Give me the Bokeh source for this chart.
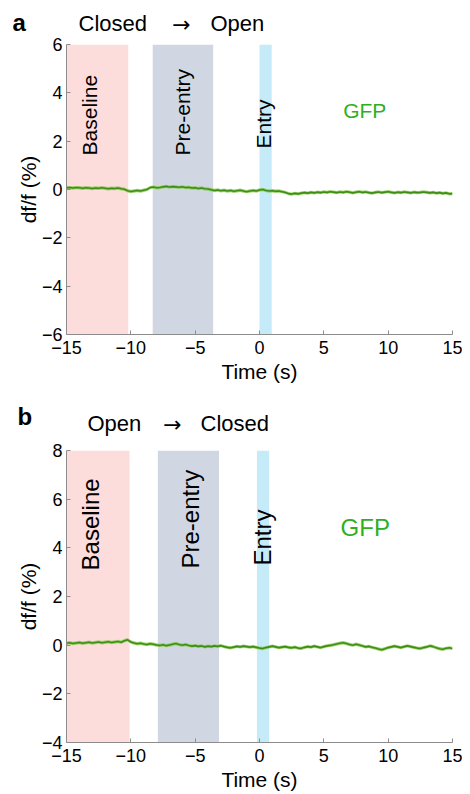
import numpy as np
from bokeh.plotting import figure
from bokeh.layouts import column
from bokeh.models import Range1d, FixedTicker, ColumnDataSource
from bokeh.core.properties import value
from bokeh.embed import file_html
from bokeh.resources import INLINE

# ---------------- data ----------------
time_s = np.linspace(-15, 15, 121)

gfp_closed_open = [
    0.07, 0.08, 0.06, 0.08, 0.07, 0.05, 0.07, 0.06, 0.04, 0.06,
    0.05, 0.07, 0.05, 0.03, 0.05, 0.04, 0.06, 0.03, 0.01, -0.05,
    -0.08, -0.06, -0.04, -0.06, -0.03, 0.00, 0.08, 0.10, 0.07, 0.08,
    0.11, 0.13, 0.10, 0.12, 0.11, 0.09, 0.11, 0.08, 0.09, 0.06,
    0.07, 0.04, 0.06, 0.03, 0.02, -0.01, -0.04, -0.02, -0.05, -0.03,
    -0.06, -0.04, -0.07, -0.05, -0.03, -0.06, -0.09, -0.06, -0.04, -0.06,
    -0.02, 0.00, -0.04, -0.06, -0.05, -0.07, -0.06, -0.09, -0.12, -0.17,
    -0.19, -0.16, -0.18, -0.15, -0.13, -0.15, -0.12, -0.14, -0.11, -0.13,
    -0.10, -0.12, -0.09, -0.11, -0.13, -0.10, -0.12, -0.09, -0.11, -0.14,
    -0.11, -0.09, -0.12, -0.10, -0.13, -0.15, -0.12, -0.10, -0.13, -0.11,
    -0.09, -0.12, -0.14, -0.11, -0.13, -0.10, -0.12, -0.14, -0.11, -0.13,
    -0.12, -0.10, -0.12, -0.14, -0.12, -0.15, -0.13, -0.16, -0.14, -0.18,
    -0.17,
]

gfp_open_closed = [
    0.08, 0.10, 0.07, 0.09, 0.11, 0.08, 0.10, 0.12, 0.09, 0.11,
    0.13, 0.10, 0.12, 0.14, 0.11, 0.13, 0.15, 0.12, 0.18, 0.22,
    0.13, 0.09, 0.06, 0.08, 0.05, 0.03, 0.06, 0.04, 0.01, -0.01,
    0.02, -0.02, 0.01, 0.04, 0.07, 0.03, 0.00, 0.03, -0.01, -0.04,
    -0.02, -0.05, -0.03, -0.07, -0.04, -0.06, -0.03, -0.05, -0.02, -0.06,
    -0.09, -0.11, -0.08, -0.05, -0.07, -0.04, -0.06, -0.08, -0.06, -0.09,
    -0.12, -0.14, -0.10, -0.07, -0.04, -0.07, -0.10, -0.08, -0.06, -0.09,
    -0.11, -0.08, -0.12, -0.13, -0.09, -0.06, -0.08, -0.04, -0.07, -0.10,
    -0.06, -0.03, -0.01, 0.02, 0.05, 0.08, 0.10, 0.07, 0.03, 0.00,
    0.04, 0.01, -0.03, -0.07, -0.05, -0.09, -0.12, -0.16, -0.19, -0.15,
    -0.10, -0.07, -0.04, -0.07, -0.10, -0.06, -0.03, -0.06, -0.09, -0.12,
    -0.14, -0.10, -0.07, -0.03, -0.06, -0.11, -0.15, -0.17, -0.13, -0.11,
    -0.14,
]
sem = 0.07

epoch_names = ["Baseline", "Pre-entry", "Entry"]
epoch_colors = ["#FDDCDC", "#D0D6E2", "#C6EBF8"]
epochs_a_left = [-15.0, -8.3, 0.0]
epochs_a_right = [-10.2, -3.6, 0.95]
epochs_b_left = [-15.0, -7.9, -0.2]
epochs_b_right = [-10.1, -3.15, 0.75]

x_ticks = [-15, -10, -5, 0, 5, 10, 15]
y_ticks_a = [-6, -4, -2, 0, 2, 4, 6]
y_ticks_b = [-4, -2, 0, 2, 4, 6, 8]

panel_letters = ["a", "b"]
transition_a = ["Closed", "Open"]
transition_b = ["Open", "Closed"]
ARROW = "\u2192"

FONT = "Liberation Sans"
LINE = "#3E8E16"
BAND = "#8CCB57"
GFP_COL = "#2EAF1E"
W = 462


def header(letter, words, height, letter_xy, word_lefts, arrow_x, title_y):
    # pixel-like coordinates measured from the top of this header strip
    h = figure(width=W, height=height, output_backend="svg", toolbar_location=None,
               x_range=Range1d(0, W), y_range=Range1d(0, height),
               x_axis_type=None, y_axis_type=None, frame_align=False,
               min_border=0, min_border_left=0, min_border_right=0,
               min_border_top=0, min_border_bottom=0)
    h.title.visible = False
    h.outline_line_color = None
    h.grid.visible = False
    h.text(x=[letter_xy[0]], y=[height - letter_xy[1]], text=[letter],
           text_font=value(FONT), text_font_size="24px", text_font_style="bold",
           text_baseline="middle", text_align="left", text_color="black")
    h.text(x=word_lefts, y=[height - title_y] * 2, text=words,
           text_font=value(FONT), text_font_size="22px",
           text_baseline="middle", text_align="left", text_color="black")
    h.text(x=[arrow_x], y=[height - title_y - 1], text=[ARROW],
           text_font=value("DejaVu Sans"), text_font_size="22px",
           text_baseline="middle", text_align="center", text_color="black")
    return h


def panel(values, lefts, rights, yr, yticks, height, top_border, bottom_border,
          label_pos, gfp_pos, fsz):
    p = figure(width=W, height=height, output_backend="svg", toolbar_location=None,
               x_range=Range1d(-15, 15), y_range=Range1d(*yr), frame_align=False,
               min_border_left=66, min_border_right=10,
               min_border_top=top_border, min_border_bottom=bottom_border)
    p.outline_line_color = None
    p.xgrid.visible = False
    p.ygrid.visible = False

    src = ColumnDataSource(dict(left=lefts, right=rights,
                                bottom=[yr[0]] * 3, top=[yr[1]] * 3,
                                color=epoch_colors))
    p.quad(left="left", right="right", bottom="bottom", top="top",
           fill_color="color", line_color=None, source=src)

    v = np.array(values)
    p.varea(x=time_s, y1=v - sem, y2=v + sem, fill_color=BAND, fill_alpha=0.85)
    p.line(time_s, v, line_color=LINE, line_width=1.6)

    tx, ty = label_pos
    p.text(x=tx, y=ty, text=epoch_names, angle=np.pi / 2,
           text_align="left", text_baseline="middle",
           text_font=value(FONT), text_font_size=f"{fsz}px", text_color="black")
    p.text(x=[gfp_pos[0]], y=[gfp_pos[1]], text=["GFP"],
           text_align="left", text_baseline="middle",
           text_font=value(FONT), text_font_size=f"{fsz}px", text_color=GFP_COL)

    for ax in (p.xaxis[0], p.yaxis[0]):
        ax.axis_line_color = "#8C8C8C"
        ax.major_tick_line_color = "#8C8C8C"
        ax.major_tick_in = 4
        ax.major_tick_out = 0
        ax.minor_tick_line_color = None
        ax.major_label_text_font = FONT
        ax.major_label_text_font_size = "18px"
        ax.major_label_text_color = "black"
        ax.axis_label_text_font = FONT
        ax.axis_label_text_font_size = "21px"
        ax.axis_label_text_font_style = "normal"
        ax.axis_label_text_color = "black"
    p.xaxis.ticker = FixedTicker(ticks=x_ticks)
    p.yaxis.ticker = FixedTicker(ticks=yticks)
    p.xaxis.axis_label = "Time (s)"
    p.yaxis.axis_label = "df/f (%)"
    p.xaxis.major_label_standoff = 6
    p.xaxis.axis_label_standoff = 3
    p.yaxis.major_label_standoff = 4
    p.yaxis.axis_label_standoff = -1
    return p


ha = header(panel_letters[0], transition_a, 36, (12, 22), [78, 210], 181, 23)
pa = panel(gfp_closed_open, epochs_a_left, epochs_a_right, (-6, 6), y_ticks_a,
           349, 8, 51,
           ([-13.2, -6.0, 0.31], [1.41, 1.41, 1.7]), (6.5, 3.27), 21)
hb = header(panel_letters[1], transition_b, 52, (17, 31), [87, 200], 172, 38)
pb = panel(gfp_open_closed, epochs_b_left, epochs_b_right, (-4, 8), y_ticks_b,
           356, 13, 51,
           ([-13.13, -5.35, 0.25], [3.07, 3.15, 3.27]), (6.3, 4.84), 24)

layout = column(ha, pa, hb, pb, spacing=0)
open("out.html", "w").write(file_html(layout, INLINE))
